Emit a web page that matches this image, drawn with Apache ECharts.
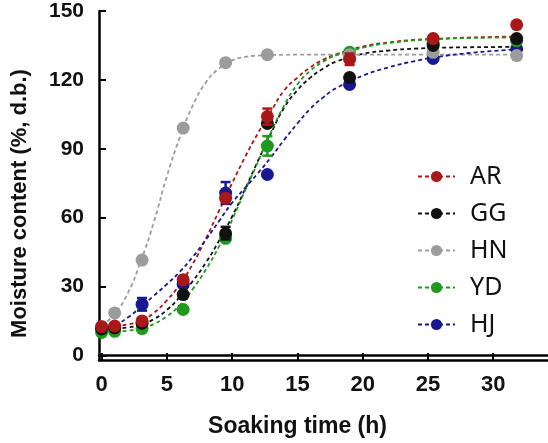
<!DOCTYPE html>
<html>
<head>
<meta charset="utf-8">
<script src="https://cdn.jsdelivr.net/npm/echarts@6/dist/echarts.min.js"></script>
<style>
  html, body { margin: 0; padding: 0; background: #fff; }
  #chart { width: 548px; height: 443px; }
</style>
</head>
<body>
<div id="chart"></div>
<script>
// 测量时间点(按图上位置读取)
const timePts = [0, 1, 3.1, 6.25, 9.5, 12.7, 19, 25.4, 31.8];
const arPts = [12.5, 12.8, 15, 33, 68.5, 104, 129, 138, 144];
const ggPts = [11.5, 12, 14, 26.5, 53, 101, 121, 135, 138];
const hnPts = [12.5, 18.5, 41.5, 99, 127.5, 131, 131, 132, 130.6];
const ydPts = [10, 10.5, 11.7, 20, 51, 91.2, 132, 136, 137];
const hjPts = [12, 12.4, 22.2, 31, 70.7, 78.8, 118, 129.3, 133.5];

// 拟合曲线
const fitTime = [0, 1, 2, 3, 4, 5, 6, 7, 8, 9, 10, 11, 12, 13, 14, 15, 16, 17, 18, 20, 22, 24, 26, 28, 30, 32];
const arFit = [12.5, 12.8, 13.5, 15, 18.5, 24, 31, 40, 51, 63, 75, 86.5, 97, 106.5, 115.5, 121, 125.5, 128.8, 131.2, 134.5, 136.3, 137.4, 138, 138.4, 138.7, 138.9];
const ggFit = [11.3, 11.6, 12.2, 13.4, 15.8, 19.8, 25.5, 32.5, 40.5, 50, 60.5, 72.5, 85, 97, 108, 115.5, 121, 125, 128, 131.3, 132.8, 133.6, 134, 134.2, 134.3, 134.4];
const hnFit = [13, 18, 27, 41, 58, 78, 95, 109, 119, 125, 128.5, 130, 130.6, 130.8, 130.9, 131, 131, 131, 131, 131, 131, 131, 131, 131, 131, 131];
const ydFit = [10, 10.3, 10.8, 11.8, 13.7, 17, 22, 29, 37.5, 47.5, 59, 72, 84.5, 97.5, 109, 118, 124, 128, 130.8, 134, 136, 137.2, 137.8, 138.2, 138.4, 138.5];
const hjFit = [12, 13.2, 16.5, 21, 26, 31, 36.5, 43, 50.5, 58.5, 66.5, 73, 79.5, 86.5, 94, 101, 107.5, 112.5, 116.5, 121.8, 125.5, 128.2, 130.2, 131.6, 132.6, 133.3];

// 误差棒 [x, 下限, 上限]
const arErr = [[12.7, 100.5, 107.5], [19, 126.5, 131.5]];
const ggErr = [[9.5, 50.5, 56]];
const ydErr = [[12.7, 87, 95.5]];
const hjErr = [[3.1, 19.5, 25], [9.5, 66, 75.5]];

const names = ['AR', 'GG', 'HN', 'YD', 'HJ'];
const xTicks = [0, 5, 10, 15, 20, 25, 30];
const yTicks = [0, 30, 60, 90, 120, 150];

const colors = { AR: '#a81818', GG: '#111111', HN: '#9c9c9c', YD: '#1f9a1f', HJ: '#18188f' };
const pts = { AR: arPts, GG: ggPts, HN: hnPts, YD: ydPts, HJ: hjPts };
const fits = { AR: arFit, GG: ggFit, HN: hnFit, YD: ydFit, HJ: hjFit };
const errs = { AR: arErr, GG: ggErr, HN: [], YD: ydErr, HJ: hjErr };

let myChart = echarts.init(document.getElementById('chart'), null, { renderer: 'canvas' });

const boldFont = 'Liberation Sans';
let series = [];

// 曲线
names.forEach(n => {
  series.push({
    name: n,
    type: 'line',
    smooth: true,
    symbol: 'circle',
    symbolSize: 11,
    showSymbol: false,
    silent: true,
    z: 2,
    itemStyle: { color: colors[n] },
    lineStyle: { color: colors[n], width: 1.8, type: [4, 3] },
    data: fitTime.map((t, i) => [t, fits[n][i]])
  });
});

// 点的绘制顺序: 蓝在最下, 红在最上
['HJ', 'YD', 'HN', 'GG', 'AR'].forEach((n, k) => {
  series.push({
    name: n,
    type: 'custom',
    z: 3 + k * 2,
    silent: true,
    renderItem: function (params, api) {
      const x = api.value(0);
      const p1 = api.coord([x, api.value(1)]);
      const p2 = api.coord([x, api.value(2)]);
      const w = 5;
      const st = { stroke: colors[n], lineWidth: 2.5 };
      return {
        type: 'group',
        children: [
          { type: 'line', shape: { x1: p1[0], y1: p1[1], x2: p2[0], y2: p2[1] }, style: st },
          { type: 'line', shape: { x1: p1[0] - w, y1: p1[1], x2: p1[0] + w, y2: p1[1] }, style: st },
          { type: 'line', shape: { x1: p2[0] - w, y1: p2[1], x2: p2[0] + w, y2: p2[1] }, style: st }
        ]
      };
    },
    data: errs[n]
  });
  series.push({
    name: n,
    type: 'scatter',
    symbol: 'circle',
    symbolSize: 13,
    z: 4 + k * 2,
    silent: true,
    itemStyle: { color: colors[n], opacity: 1 },
    data: timePts.map((t, i) => [t, pts[n][i]])
  });
});

let option = {
  animation: false,
  backgroundColor: '#ffffff',
  grid: { left: 99, right: 0, top: 11, bottom: 83 },
  legend: {
    data: names,
    orient: 'vertical',
    left: 412,
    top: 159,
    itemWidth: 37,
    itemHeight: 14,
    itemGap: 12,
    textStyle: { fontFamily: 'Noto Sans', fontSize: 25, color: '#111', padding: [0, 0, 0, 10] }
  },
  xAxis: [{
    type: 'value',
    min: -0.2,
    max: 34.2,
    name: 'Soaking time (h)',
    nameLocation: 'middle',
    nameGap: 55,
    nameTextStyle: { fontFamily: boldFont, fontWeight: 'bold', fontSize: 23, color: '#111', padding: [0, 52, 0, 0] },
    axisLine: { show: true, onZero: false, lineStyle: { color: '#000', width: 2.5 } },
    axisTick: { show: true, inside: true, length: 7, customValues: xTicks, lineStyle: { color: '#000', width: 2 } },
    axisLabel: { customValues: xTicks, fontFamily: boldFont, fontWeight: 'bold', fontSize: 22, color: '#111', margin: 14 },
    splitLine: { show: false }
  }, {
    type: 'value',
    position: 'top',
    min: -0.2,
    max: 34.2,
    axisLine: { show: true, lineStyle: { color: '#000', width: 2.5 } },
    axisTick: { show: false },
    axisLabel: { show: false },
    splitLine: { show: false }
  }],
  yAxis: {
    type: 'value',
    min: -2,
    max: 150,
    name: 'Moisture content (%, d.b.)',
    nameLocation: 'middle',
    nameGap: 68,
    nameTextStyle: { fontFamily: boldFont, fontWeight: 'bold', fontSize: 22, color: '#111', padding: [0, 36, 0, 0] },
    axisLine: { show: true, onZero: false, lineStyle: { color: '#000', width: 2.5 } },
    axisTick: { show: true, inside: true, length: 7, customValues: yTicks, lineStyle: { color: '#000', width: 2 } },
    axisLabel: { customValues: yTicks, fontFamily: boldFont, fontWeight: 'bold', fontSize: 21, color: '#111', margin: 15 },
    splitLine: { show: false }
  },
  series: series
};

myChart.setOption(option);
</script>
</body>
</html>
